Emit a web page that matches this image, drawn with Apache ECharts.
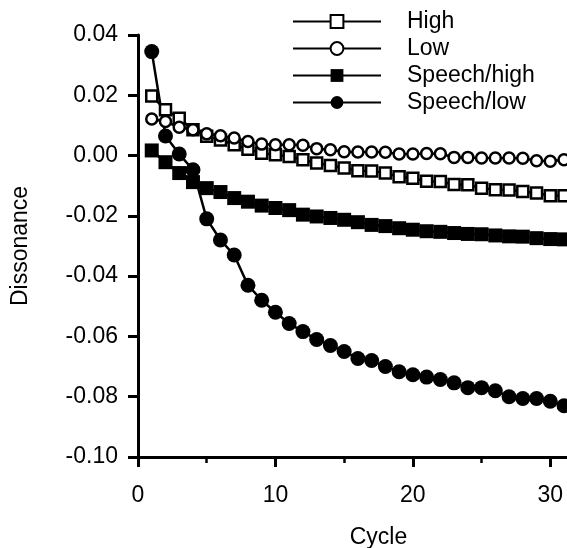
<!DOCTYPE html>
<html>
<head>
<meta charset="utf-8">
<script src="https://cdn.jsdelivr.net/npm/echarts@6/dist/echarts.min.js"></script>
<style>
html,body{margin:0;padding:0;overflow:hidden;background:#fff;width:567px;height:548px;}
#chart{width:640px;height:548px;}
</style>
</head>
<body>
<div id="chart"></div>
<script>
const cycles = [1,2,3,4,5,6,7,8,9,10,11,12,13,14,15,16,17,18,19,20,21,22,23,24,25,26,27,28,29,30,31];
const high = [0.0198,0.0152,0.0124,0.0086,0.0064,0.0052,0.0036,0.0021,0.0008,0.0003,-0.0003,-0.0014,-0.0025,-0.0033,-0.0041,-0.0050,-0.0051,-0.0058,-0.0070,-0.0075,-0.0085,-0.0086,-0.0096,-0.0097,-0.0108,-0.0113,-0.0114,-0.0119,-0.0124,-0.0133,-0.0133];
const low = [0.0121,0.0113,0.0094,0.0086,0.0072,0.0066,0.0058,0.0047,0.0038,0.0036,0.0036,0.0034,0.0023,0.0019,0.0013,0.0012,0.0012,0.0011,0.0005,0.0005,0.0007,0.0006,-0.0006,-0.0006,-0.0008,-0.0008,-0.0008,-0.0009,-0.0017,-0.0019,-0.0014];
const speechHigh = [0.0017,-0.0022,-0.0058,-0.0088,-0.0108,-0.0121,-0.0141,-0.0153,-0.0166,-0.0174,-0.0181,-0.0196,-0.0202,-0.0207,-0.0213,-0.0221,-0.0230,-0.0234,-0.0241,-0.0246,-0.0251,-0.0253,-0.0257,-0.0260,-0.0261,-0.0265,-0.0268,-0.0269,-0.0274,-0.0277,-0.0278];
const speechLow = [0.0345,0.0065,0.0005,-0.0047,-0.0210,-0.0280,-0.0330,-0.0430,-0.0480,-0.0520,-0.0557,-0.0584,-0.0610,-0.0630,-0.0650,-0.0673,-0.0680,-0.0700,-0.0717,-0.0727,-0.0735,-0.0743,-0.0754,-0.0770,-0.0770,-0.0780,-0.0800,-0.0806,-0.0806,-0.0815,-0.0830];
const seriesNames = ['High','Low','Speech/high','Speech/low'];
const xTicks = [0,10,20,30];
const yTicks = [-0.10,-0.08,-0.06,-0.04,-0.02,0.00,0.02,0.04];

const FONT = '"Liberation Sans", Arial, Helvetica, sans-serif';
function pairs(arr){ return cycles.map((c,i)=>[c,arr[i]]); }

const chart = echarts.init(document.getElementById('chart'), null, {renderer:'canvas'});
const common = {
  type:'line', silent:true, animation:false,
  lineStyle:{color:'#000', width:2.5},
  emphasis:{disabled:true}
};
chart.setOption({
  backgroundColor:'#fff',
  animation:false,
  grid:{left:138, top:35, width:481, height:422, containLabel:false, outerBoundsMode:'none'},
  legend:{
    orient:'vertical', left:287, top:3,
    itemWidth:88, itemHeight:16, itemGap:0,
    data:seriesNames,
    textStyle:{fontFamily:FONT, fontSize:23, lineHeight:27, color:'#000', padding:[0,0,0,21]},
    selectedMode:false
  },
  xAxis:{
    type:'value', min:0, max:35, interval:10,
    name:'Cycle', nameLocation:'middle', nameGap:69,
    nameTextStyle:{fontFamily:FONT, fontSize:23, color:'#000'},
    axisLine:{show:true, onZero:false, lineStyle:{color:'#000', width:3}},
    axisTick:{show:true, length:10, lineStyle:{color:'#000', width:3}},
    minorTick:{show:true, splitNumber:2, length:6, lineStyle:{color:'#000', width:2.5}},
    axisLabel:{fontFamily:FONT, fontSize:23, color:'#000', margin:27,
      formatter:v => xTicks.includes(Math.round(v)) && Math.abs(v-Math.round(v))<1e-9 ? String(Math.round(v)) : ''},
    splitLine:{show:false}
  },
  yAxis:{
    type:'value', min:-0.10, max:0.04, interval:0.02,
    name:'Dissonance', nameLocation:'middle', nameGap:106, nameRotate:90,
    nameTextStyle:{fontFamily:FONT, fontSize:23, color:'#000'},
    axisLine:{show:true, onZero:false, lineStyle:{color:'#000', width:3}},
    axisTick:{show:true, length:10, lineStyle:{color:'#000', width:3}},
    axisLabel:{fontFamily:FONT, fontSize:23, color:'#000', margin:20,
      formatter:v => { let r = Math.round(v*100)/100; if (Math.abs(r)<1e-9) r = 0; return r.toFixed(2); }},
    splitLine:{show:false}
  },
  series:[
    Object.assign({}, common, {name:seriesNames[0], data:pairs(high), symbol:'rect', symbolSize:11,
      itemStyle:{color:'#fff', borderColor:'#000', borderWidth:2.5}}),
    Object.assign({}, common, {name:seriesNames[1], data:pairs(low), symbol:'circle', symbolSize:11,
      itemStyle:{color:'#fff', borderColor:'#000', borderWidth:2.5}}),
    Object.assign({}, common, {name:seriesNames[2], data:pairs(speechHigh), symbol:'rect', symbolSize:14,
      itemStyle:{color:'#000', borderColor:'#000', borderWidth:0}}),
    Object.assign({}, common, {name:seriesNames[3], data:pairs(speechLow), symbol:'circle', symbolSize:15,
      itemStyle:{color:'#000', borderColor:'#000', borderWidth:0}})
  ]
});
</script>
</body>
</html>
